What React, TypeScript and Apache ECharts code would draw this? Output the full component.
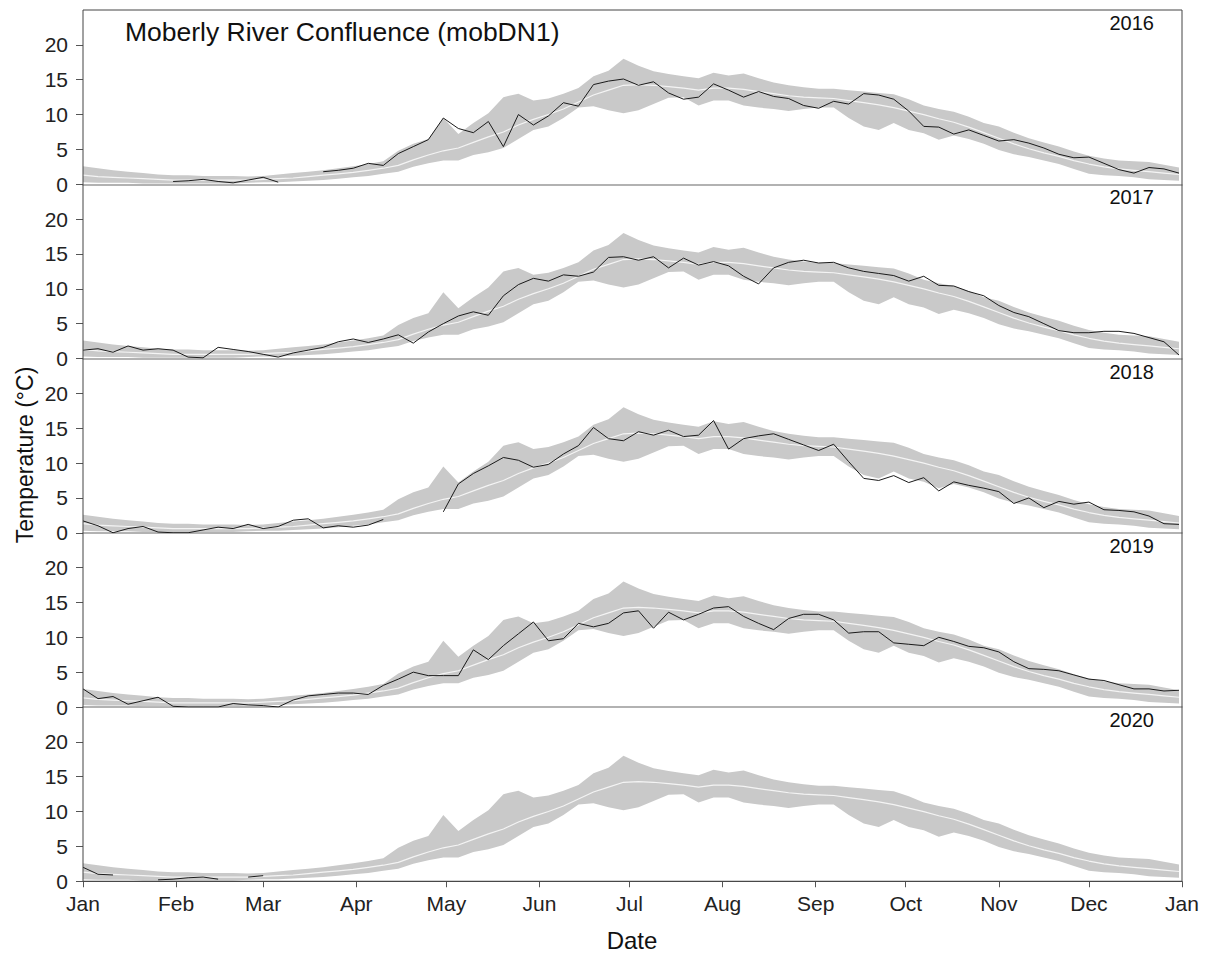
import React, { useEffect, useRef } from "react";
import * as echarts from "echarts";

// sample days (day of year, 5-day step)
const days: number[] = Array.from({ length: 74 }, (_, i) => i * 5);

const monthStarts = [0, 31, 60, 91, 121, 152, 182, 213, 244, 274, 305, 335, 366];
const monthNames = ["Jan", "Feb", "Mar", "Apr", "May", "Jun", "Jul", "Aug", "Sep", "Oct", "Nov", "Dec", "Jan"];
const yTicks = [0, 5, 10, 15, 20];
const years = ["2016", "2017", "2018", "2019", "2020"];

// climatological envelope (same in every panel)
const bandLow = [
  0.3, 0.2, 0.2, 0.2, 0.1, 0.1, 0.1, 0.1, 0.1, 0.1,
  0.1, 0.2, 0.3, 0.3, 0.4, 0.5, 0.6, 0.8, 1.0, 1.2,
  1.5, 1.8, 2.5, 3.0, 3.4, 3.4, 4.2, 4.6, 5.2, 6.5,
  7.8, 8.3, 9.5, 11.0, 11.2, 10.6, 10.2, 10.6, 11.5, 12.4,
  12.5, 11.3, 12.0, 12.0, 11.3, 11.0, 10.8, 10.5, 10.8, 11.0,
  11.0, 9.5, 8.3, 7.8, 8.8, 7.8, 7.3, 6.4, 7.0, 6.5,
  5.8, 4.9, 4.3, 3.9, 3.4, 2.9, 2.2, 1.5, 1.3, 1.2,
  1.0, 0.7, 0.6, 0.5,
];
const bandHigh = [
  2.6, 2.3, 2.0, 1.8, 1.6, 1.4, 1.3, 1.3, 1.2, 1.2,
  1.2, 1.1, 1.2, 1.4, 1.6, 1.8, 2.0, 2.3, 2.6, 2.9,
  3.3, 4.8, 5.8, 6.5, 9.5, 7.2, 8.8, 10.2, 12.5, 13.0,
  12.0, 12.3, 13.0, 13.8, 15.5, 16.3, 18.0, 17.0, 16.2, 15.8,
  15.5, 15.2, 16.0, 15.6, 15.9, 15.2, 14.6, 14.2, 13.9, 13.7,
  13.7, 13.5, 13.3, 13.1, 12.9, 12.2, 11.3, 10.8, 10.4, 9.7,
  8.8, 8.3, 7.4, 6.6, 6.0, 5.4, 4.7, 4.1, 3.7, 3.4,
  3.3, 3.2, 2.8, 2.4,
];
const bandMedian = [
  1.3, 1.1, 1.0, 0.9, 0.8, 0.7, 0.6, 0.6, 0.6, 0.6,
  0.6, 0.6, 0.7, 0.8, 0.9, 1.1, 1.3, 1.5, 1.7, 2.0,
  2.3, 2.7, 3.5, 4.2, 4.8, 5.2, 6.0, 6.8, 7.5, 8.5,
  9.3, 10.0, 10.8, 11.8, 12.8, 13.5, 14.2, 14.3, 14.2, 14.0,
  13.8, 13.5, 13.8, 13.8, 13.6, 13.3, 13.0, 12.7, 12.5, 12.4,
  12.3, 12.0, 11.7, 11.4, 11.0, 10.5, 10.0, 9.4, 8.9, 8.2,
  7.4, 6.6, 5.8, 5.1, 4.5, 4.0, 3.4, 2.9, 2.5, 2.2,
  2.0, 1.8, 1.6, 1.4,
];

const obs2016 = [
  null, null, null, null, null, null, 0.4, 0.5, 0.7, 0.4,
  0.2, 0.6, 1.0, 0.3, null, null, 1.8, 2.0, 2.3, 3.0,
  2.7, 4.4, 5.4, 6.4, 9.5, 8.0, 7.4, 9.0, 5.4, 10.0,
  8.5, 9.8, 11.7, 11.2, 14.3, 14.8, 15.1, 14.2, 14.7, 13.1,
  12.2, 12.5, 14.4, 13.5, 12.5, 13.3, 12.6, 12.3, 11.3, 10.9,
  11.9, 11.5, 13.0, 12.8, 12.2, 10.5, 8.3, 8.2, 7.2, 7.8,
  7.0, 6.2, 6.4, 5.9, 5.2, 4.3, 3.8, 3.9, 3.0, 2.1,
  1.6, 2.4, 2.2, 1.6,
];
const obs2017 = [
  1.2, 1.4, 0.9, 1.8, 1.2, 1.4, 1.2, 0.2, 0.1, 1.6,
  1.3, 1.0, 0.6, 0.2, 0.8, 1.2, 1.6, 2.4, 2.8, 2.3,
  2.8, 3.4, 2.2, 3.8, 5.0, 6.1, 6.7, 6.2, 9.0, 10.6,
  11.5, 11.1, 12.0, 11.8, 12.4, 14.5, 14.6, 14.1, 14.6, 13.0,
  14.4, 13.4, 13.9, 13.3, 11.8, 10.7, 13.0, 13.8, 14.1, 13.7,
  13.8, 13.0, 12.5, 12.2, 11.9, 11.1, 11.8, 10.5, 10.4, 9.6,
  9.0, 7.6, 6.6, 6.0, 5.0, 4.0, 3.7, 3.7, 3.9, 3.9,
  3.6, 3.0, 2.4, 0.5,
];
const obs2018 = [
  1.7, 1.0, 0.0, 0.6, 0.9, 0.1, 0.0, 0.0, 0.4, 0.8,
  0.6, 1.2, 0.6, 0.9, 1.8, 2.0, 0.7, 1.0, 0.8, 1.1,
  1.9, null, null, null, 3.0, 7.0, 8.5, 9.6, 10.8, 10.4,
  9.4, 9.8, 11.3, 12.5, 15.1, 13.5, 13.2, 14.5, 14.0, 14.7,
  13.8, 14.0, 16.1, 12.0, 13.5, 13.9, 14.2, 13.4, 12.6, 11.8,
  12.7, 10.2, 7.8, 7.5, 8.2, 7.2, 7.9, 6.0, 7.3, 6.8,
  6.4, 5.9, 4.2, 5.0, 3.6, 4.5, 4.1, 4.4, 3.3, 3.2,
  3.0, 2.4, 1.3, 1.2,
];
const obs2019 = [
  2.6, 1.2, 1.5, 0.4, 0.9, 1.4, 0.1, 0.0, 0.0, 0.0,
  0.5, 0.3, 0.2, 0.0, 1.0, 1.6, 1.8, 2.0, 2.0, 1.8,
  3.1, 4.0, 5.0, 4.5, 4.5, 4.5, 8.2, 6.8, 8.8, 10.5,
  12.2, 9.5, 9.8, 12.0, 11.5, 12.0, 13.5, 13.8, 11.3, 13.6,
  12.5, 13.3, 14.2, 14.4, 13.0, 12.0, 11.1, 12.7, 13.3, 13.3,
  12.5, 10.6, 10.8, 10.8, 9.2, 9.0, 8.8, 10.0, 9.4, 8.7,
  8.5, 7.9, 6.5, 5.5, 5.4, 5.2, 4.6, 4.0, 3.8, 3.2,
  2.6, 2.6, 2.3, 2.4,
];
const obs2020 = [
  2.0, 1.0, 0.9, null, null, 0.2, 0.3, 0.5, 0.6, 0.3,
  null, 0.6, 0.8, null, null, null, null, null, null, null,
  null, null, null, null, null, null, null, null, null, null,
  null, null, null, null, null, null, null, null, null, null,
  null, null, null, null, null, null, null, null, null, null,
  null, null, null, null, null, null, null, null, null, null,
  null, null, null, null, null, null, null, null, null, null,
  null, null, null, null,
];
const observed = [obs2016, obs2017, obs2018, obs2019, obs2020];

const FONT = "Liberation Sans, Arial, sans-serif";

export default function App() {
  const ref = useRef<HTMLDivElement>(null);
  useEffect(() => {
    document.body.style.margin = "0";
    if (!ref.current) return;
    const chart = echarts.init(ref.current, null, { renderer: "svg" });
    const left = 83;
    const right = 1182;
    const top0 = 10;
    const ph = 174.25;
    const n = years.length;

    const grids: any[] = [];
    const xAxes: any[] = [];
    const yAxes: any[] = [];
    const series: any[] = [];
    const graphics: any[] = [];

    const bandRender = (params: any, api: any) => {
      const upper = days.map((d, k) => api.coord([d, bandHigh[k]]));
      const lower = days.map((d, k) => api.coord([d, bandLow[k]])).reverse();
      return {
        type: "polygon",
        shape: { points: upper.concat(lower) },
        style: { fill: "#c9c9c9", stroke: "none" },
        silent: true,
      };
    };

    for (let i = 0; i < n; i++) {
      const last = i === n - 1;
      grids.push({ left, width: right - left, top: top0 + i * ph, height: ph, containLabel: false });
      xAxes.push({
        type: "value",
        gridIndex: i,
        min: 0,
        max: 366,
        splitLine: { show: false },
        axisLine: { show: true, lineStyle: { color: last ? "#555" : "#999", width: last ? 1.2 : 1.5 } },
        axisTick: {
          show: last,
          customValues: monthStarts,
          length: 6,
          lineStyle: { color: "#555" },
        },
        axisLabel: {
          show: last,
          customValues: monthStarts,
          formatter: (v: number) => monthNames[monthStarts.indexOf(v)] ?? "",
          fontSize: 21,
          color: "#222",
          fontFamily: FONT,
          margin: 12,
        },
      });
      yAxes.push({
        type: "value",
        gridIndex: i,
        min: 0,
        max: 25,
        interval: 5,
        splitLine: { show: false },
        axisLine: { show: false },
        axisTick: { show: true, customValues: yTicks, length: 7, lineStyle: { color: "#555" } },
        axisLabel: {
          customValues: yTicks,
          fontSize: 21,
          color: "#222",
          fontFamily: FONT,
          margin: 15,
        },
      });
      series.push({
        type: "custom",
        xAxisIndex: i,
        yAxisIndex: i,
        coordinateSystem: "cartesian2d",
        silent: true,
        renderItem: bandRender,
        data: [[days[0], bandLow[0]]],
        z: 1,
      });
      series.push({
        type: "line",
        xAxisIndex: i,
        yAxisIndex: i,
        symbol: "none",
        silent: true,
        lineStyle: { color: "#f4f4f4", width: 1.2 },
        data: days.map((d, k) => [d, bandMedian[k]]),
        z: 2,
      });
      series.push({
        type: "line",
        xAxisIndex: i,
        yAxisIndex: i,
        symbol: "none",
        silent: true,
        connectNulls: false,
        lineStyle: { color: "#1a1a1a", width: 1 },
        data: days.map((d, k) => [d, observed[i][k]]),
        z: 3,
      });
      graphics.push({
        type: "text",
        x: 1154,
        y: top0 + i * ph + 13,
        style: {
          text: years[i],
          fontSize: 20,
          fontFamily: FONT,
          fill: "#111",
          align: "right",
          verticalAlign: "middle",
        },
      });
    }

    graphics.push({
      type: "rect",
      shape: { x: left, y: top0, width: right - left, height: n * ph },
      style: { fill: "none", stroke: "#444", lineWidth: 1 },
      z: 10,
    });
    graphics.push({
      type: "text",
      x: 125,
      y: 32,
      style: {
        text: "Moberly River Confluence (mobDN1)",
        fontSize: 26.5,
        fontFamily: FONT,
        fill: "#111",
        align: "left",
        verticalAlign: "middle",
      },
    });
    graphics.push({
      type: "text",
      x: 632,
      y: 940,
      style: {
        text: "Date",
        fontSize: 24,
        fontFamily: FONT,
        fill: "#111",
        align: "center",
        verticalAlign: "middle",
      },
    });
    graphics.push({
      type: "text",
      x: 25,
      y: 455,
      rotation: Math.PI / 2,
      style: {
        text: "Temperature (°C)",
        fontSize: 23,
        fontFamily: FONT,
        fill: "#111",
        align: "center",
        verticalAlign: "middle",
      },
    });

    chart.setOption({
      animation: false,
      backgroundColor: "#ffffff",
      grid: grids,
      xAxis: xAxes,
      yAxis: yAxes,
      series,
      graphic: graphics,
    });
    return () => chart.dispose();
  }, []);
  return <div ref={ref} style={{ width: 1211, height: 955 }} />;
}
